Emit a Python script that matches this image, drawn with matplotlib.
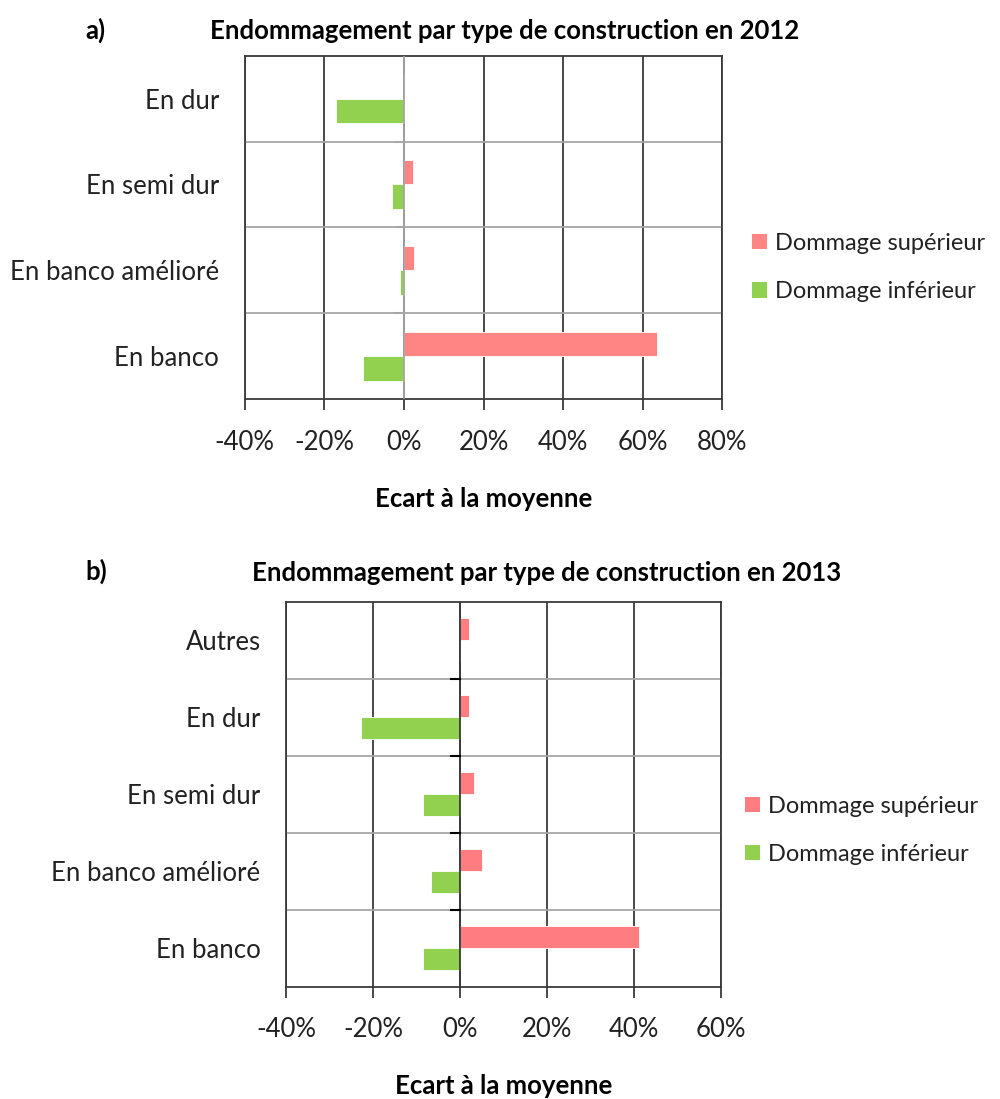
import matplotlib.pyplot as plt
from matplotlib.patches import Patch
from matplotlib.ticker import FuncFormatter, FixedLocator

plt.rcParams['font.family'] = ['Lato', 'DejaVu Sans']

# 2012
cats_2012 = ['En dur', 'En semi dur', 'En banco amélioré', 'En banco']
sup_2012 = [0.0, 2.3, 2.6, 63.5]
inf_2012 = [-17.1, -3.1, -1.1, -10.4]

# 2013
cats_2013 = ['Autres', 'En dur', 'En semi dur', 'En banco amélioré', 'En banco']
sup_2013 = [2.1, 2.1, 3.3, 5.1, 41.2]
inf_2013 = [0.0, -22.9, -8.5, -6.6, -8.5]

xticks_2012 = [-40, -20, 0, 20, 40, 60, 80]
xticks_2013 = [-40, -20, 0, 20, 40, 60]

series = ['Dommage supérieur', 'Dommage inférieur']

GREEN = '#92d050'
DARK = '#3a3a3a'
GREY = '#a6a6a6'
TXT = '#222222'
FS = 18.5
LEG_FS = 17

fig = plt.figure(figsize=(10, 10.99), dpi=100)


def draw(ax, cats, sup, inf, xticks, red, zero_col, ytick_col, leg_xy):
    n = len(cats)
    ys = list(range(n))[::-1]
    h = 0.285
    ax.barh([y + h / 2 for y in ys], sup, height=h, color=red,
            edgecolor='white', linewidth=0.6, zorder=3)
    ax.barh([y - h / 2 for y in ys], inf, height=h, color=GREEN,
            edgecolor='white', linewidth=0.6, zorder=3)
    ax.set_xlim(xticks[0], xticks[-1])
    ax.set_ylim(-0.5, n - 0.5)
    ax.set_xticks(xticks)
    ax.xaxis.set_major_formatter(FuncFormatter(lambda v, p: f'{v:.0f}%'))
    ax.set_yticks(ys)
    ax.set_yticklabels(cats)
    ax.yaxis.set_minor_locator(FixedLocator([y + 0.5 for y in range(n - 1)]))
    ax.grid(axis='x', which='major', color=DARK, linewidth=1.3, zorder=1)
    ax.grid(axis='y', which='minor', color=GREY, linewidth=1.3, zorder=1)
    ax.axvline(0, color=zero_col, linewidth=1.3, zorder=4)
    # petits traits sur l'axe vertical, aux limites des catégories
    for yb in [y + 0.5 for y in range(n - 1)]:
        ax.plot([-2.0, 0], [yb, yb], color=ytick_col, linewidth=1.5,
                zorder=4, clip_on=False)
    ax.tick_params(axis='y', which='both', length=0, pad=18.5,
                   labelsize=FS, labelcolor=TXT)
    ax.tick_params(axis='x', length=8, width=1.3, color=DARK, pad=14,
                   labelsize=FS, labelcolor=TXT)
    for s in ax.spines.values():
        s.set_color(DARK)
        s.set_linewidth(1.3)
    ax.set_xlabel('Ecart à la moyenne', fontsize=FS, fontweight='bold',
                  labelpad=23)
    handles = [Patch(facecolor=red), Patch(facecolor=GREEN)]
    leg = ax.legend(handles, series, loc='center left', bbox_to_anchor=leg_xy,
                    frameon=False, fontsize=LEG_FS, handlelength=0.62,
                    handleheight=0.62, handletextpad=0.35, labelspacing=1.16,
                    borderpad=0, borderaxespad=0)
    for t in leg.get_texts():
        t.set_color(TXT)


ax1 = fig.add_axes([0.2447, 0.6369, 0.4776, 0.3124])
draw(ax1, cats_2012, sup_2012, inf_2012, xticks_2012, '#ff8585', GREY, GREY,
     (1.062, 0.383))
ax1.set_title('Endommagement par type de construction en 2012',
              fontsize=FS, fontweight='bold', pad=12, x=0.545)
fig.text(0.085, 0.9727, 'a)', fontsize=FS, fontweight='bold', va='center')

ax2 = fig.add_axes([0.2863, 0.1022, 0.4344, 0.3503])
draw(ax2, cats_2013, sup_2013, inf_2013, xticks_2013, '#ff7c80', DARK, 'black',
     (1.056, 0.406))
ax2.set_title('Endommagement par type de construction en 2013',
              fontsize=FS, fontweight='bold', pad=15, x=0.600)
fig.text(0.085, 0.4804, 'b)', fontsize=FS, fontweight='bold', va='center')

fig.savefig('out.png', dpi=100)
